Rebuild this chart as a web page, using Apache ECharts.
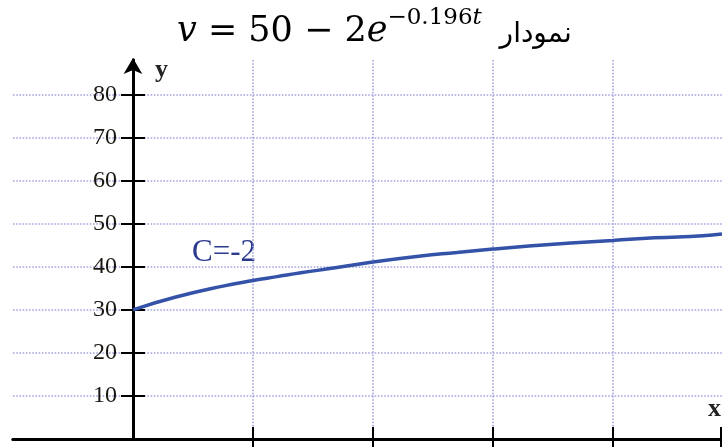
<!DOCTYPE html>
<html>
<head>
<meta charset="utf-8">
<script src="https://cdn.jsdelivr.net/npm/echarts@6/dist/echarts.min.js"></script>
<style>
  html, body { margin: 0; padding: 0; background: #fff; }
  #chart { width: 722px; height: 447px; }
</style>
</head>
<body>
<div id="chart"></div>
<script>
// curve (t in grid units, v in axis units)
const tValues = [0, 0.35, 0.75, 1, 1.2, 1.4, 1.7, 2, 2.4, 2.7, 3, 3.3, 3.65, 4, 4.35, 4.75, 4.91];
const vValues = [30, 32.9, 35.5, 36.8, 37.7, 38.6, 39.8, 41.1, 42.5, 43.3, 44.1, 44.8, 45.5, 46.1, 46.7, 47.2, 47.6];
const yTicks = [10, 20, 30, 40, 50, 60, 70, 80];
const xTicks = [1, 2, 3, 4, 4.9];
const curveLabel = 'C=-2';

const serif = '"Liberation Serif", "DejaVu Serif", serif';
const mathFont = '"DejaVu Serif", serif';
const gridLine = { type: 'dotted', color: '#a4a4e0', width: 1.6 };
const tickStyle = { color: '#000', width: 2 };

const chart = echarts.init(document.getElementById('chart'));

const xBase = {
  type: 'value', min: -1, max: 4.91, interval: 1,
  axisLabel: { show: false },
  axisLine: { onZero: true, onZeroAxisIndex: 0, lineStyle: { color: '#000', width: 3 } }
};
const yBase = {
  type: 'value', min: 0, max: 88, interval: 10,
  axisLine: { onZero: true, onZeroAxisIndex: 0, lineStyle: { color: '#000', width: 3 } }
};

chart.setOption({
  animation: false,
  grid: { left: 13, right: 0, top: 60, bottom: 8, outerBoundsMode: 'none', containLabel: false },
  xAxis: [
    Object.assign({}, xBase, {
      position: 'bottom',
      axisTick: { customValues: xTicks, length: 8, lineStyle: tickStyle },
      splitLine: { show: true, showMinLine: true, showMaxLine: false, lineStyle: gridLine }
    }),
    Object.assign({}, xBase, {
      position: 'bottom',
      axisTick: { customValues: xTicks, inside: true, length: 12, lineStyle: tickStyle },
      splitLine: { show: false }
    })
  ],
  yAxis: [
    Object.assign({}, yBase, {
      position: 'left',
      axisLine: {
        onZero: true, onZeroAxisIndex: 0,
        symbol: ['none', 'arrow'], symbolSize: [14, 16], symbolOffset: [0, 2],
        lineStyle: { color: '#000', width: 3 }
      },
      axisTick: { customValues: yTicks, length: 12, lineStyle: tickStyle },
      // labels sit near the y axis line (x = 0), not at the grid edge
      axisLabel: {
        customValues: yTicks, margin: -104,
        fontFamily: serif, fontSize: 24, color: '#1a1510'
      },
      splitLine: { show: true, showMinLine: true, showMaxLine: true, lineStyle: gridLine }
    }),
    Object.assign({}, yBase, {
      position: 'left',
      axisTick: { customValues: yTicks, inside: true, length: 12, lineStyle: tickStyle },
      axisLabel: { show: false },
      splitLine: { show: false }
    })
  ],
  series: [{
    type: 'line',
    xAxisIndex: 0, yAxisIndex: 0,
    data: tValues.map((t, i) => [t, vValues[i]]),
    smooth: true,
    symbol: 'none',
    lineStyle: { color: '#3352a8', width: 3.5 }
  }],
  graphic: [
    {
      type: 'text', left: 177, top: 7,
      style: {
        text: '{it|v}{n| = 50 − 2}{it|e}{sup|−0.196}{supit|t}{ar|  نمودار}',
        rich: {
          it: { fontFamily: mathFont, fontStyle: 'italic', fontSize: 35, lineHeight: 42, verticalAlign: 'bottom' },
          n: { fontFamily: mathFont, fontSize: 35, lineHeight: 42, verticalAlign: 'bottom' },
          sup: { fontFamily: mathFont, fontSize: 23, lineHeight: 42, verticalAlign: 'top' },
          supit: { fontFamily: mathFont, fontStyle: 'italic', fontSize: 23, lineHeight: 42, verticalAlign: 'top' },
          ar: { fontFamily: '"DejaVu Sans", sans-serif', fontSize: 28, lineHeight: 42, verticalAlign: 'bottom' }
        },
        fill: '#000'
      }
    },
    {
      type: 'text', left: 155, top: 57,
      style: { text: 'y', fontFamily: serif, fontWeight: 'bold', fontSize: 26, fill: '#222' }
    },
    {
      type: 'text', left: 708, top: 396,
      style: { text: 'x', fontFamily: serif, fontWeight: 'bold', fontSize: 26, fill: '#222' }
    },
    {
      type: 'text', left: 192, top: 237,
      style: { text: curveLabel, fontFamily: serif, fontSize: 31, fill: '#2b3a8c' }
    }
  ]
});
</script>
</body>
</html>
